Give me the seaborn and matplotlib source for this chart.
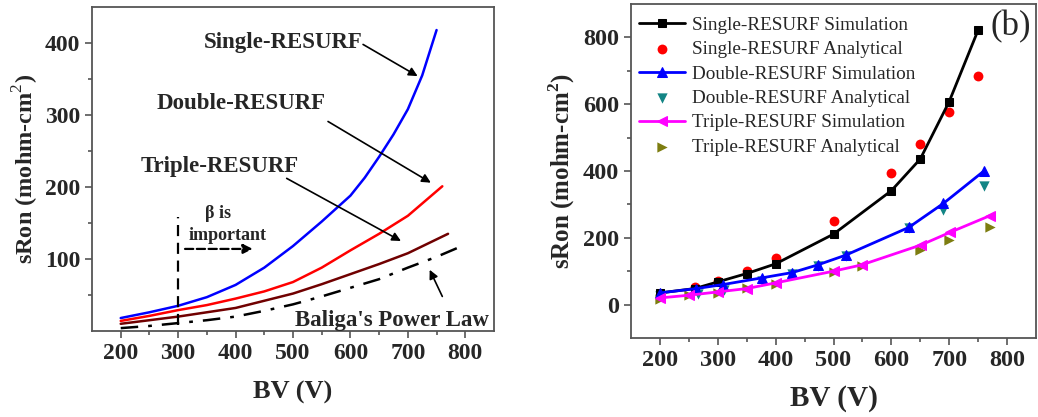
import matplotlib
matplotlib.use("Agg")
import matplotlib.pyplot as plt
import seaborn as sns
import numpy as np
from matplotlib.ticker import FixedLocator

# ---------------- data (panel a) ----------------
bv_single_a = [200, 250, 300, 350, 400, 450, 500, 550, 600, 625, 650, 675, 700, 725, 750]
ron_single_a = [18, 26, 35, 47, 64, 88, 118, 152, 188, 213, 242, 273, 308, 355, 418]
bv_double_a = [200, 250, 300, 350, 400, 450, 500, 550, 600, 650, 700, 760]
ron_double_a = [14, 21, 29, 36, 45, 55, 68, 88, 112, 135, 160, 201]
bv_triple_a = [200, 250, 300, 350, 400, 450, 500, 550, 600, 650, 700, 770]
ron_triple_a = [10, 15, 20, 26, 32, 42, 52, 65, 79, 93, 108, 135]
bv_baliga = [200, 250, 300, 350, 400, 450, 500, 550, 600, 650, 700, 750, 800]
ron_baliga = [4, 7, 11, 15, 20, 28, 37, 48, 60, 72, 88, 103, 120]

# ---------------- data (panel b) ----------------
bv_ss = [200, 260, 300, 350, 400, 500, 600, 650, 700, 750]
ron_ss = [35, 48, 68, 93, 122, 211, 341, 436, 608, 822]
bv_sa = [260, 300, 350, 400, 500, 600, 650, 700, 750]
ron_sa = [54, 70, 102, 141, 249, 393, 481, 577, 684]
bv_ds = [200, 263, 309, 376, 429, 473, 521, 630, 690, 760]
ron_ds = [35, 48, 60, 80, 96, 119, 148, 231, 303, 400]
bv_da = [200, 265, 310, 376, 429, 473, 521, 630, 690, 760]
ron_da = [25, 33, 45, 72, 92, 117, 146, 229, 284, 355]
bv_ts = [200, 250, 300, 350, 400, 500, 549, 652, 701, 770]
ron_ts = [20, 28, 38, 48, 65, 100, 119, 179, 216, 266]
bv_ta = [200, 250, 300, 350, 400, 500, 550, 650, 700, 770]
ron_ta = [16, 28, 36, 50, 63, 97, 117, 164, 192, 231]

legend_labels = ["Single-RESURF Simulation", "Single-RESURF Analytical",
                 "Double-RESURF Simulation", "Double-RESURF Analytical",
                 "Triple-RESURF Simulation", "Triple-RESURF Analytical"]

sns.set_theme(style="ticks")
plt.rcParams['font.family'] = ['Liberation Serif', 'DejaVu Serif']
plt.rcParams['mathtext.fontset'] = 'custom'
plt.rcParams['mathtext.rm'] = 'Liberation Serif'
plt.rcParams['mathtext.bf'] = 'Liberation Serif:bold'

W, H = 1038, 417
fig = plt.figure(figsize=(W / 100, H / 100), dpi=100)
fig.patch.set_facecolor('white')

ax1 = fig.add_axes([92 / W, 1 - 331 / H, (494 - 92) / W, (331 - 7) / H])
ax2 = fig.add_axes([631 / W, 1 - 338 / H, (1036 - 631) / W, (338 - 4) / H])

spine_col = '#555555'
for ax in (ax1, ax2):
    for s in ax.spines.values():
        s.set_color(spine_col)
        s.set_linewidth(1.3)
    ax.tick_params(which='major', direction='out', length=5, width=1.2, color=spine_col)
    ax.tick_params(which='minor', direction='out', length=3, width=1.2, color=spine_col)
    ax.set_facecolor('white')

# ---------------- panel a ----------------
sns.lineplot(x=bv_single_a, y=ron_single_a, ax=ax1, color='#0000ff', lw=1.8)
sns.lineplot(x=bv_double_a, y=ron_double_a, ax=ax1, color='#ff0000', lw=1.8)
sns.lineplot(x=bv_triple_a, y=ron_triple_a, ax=ax1, color='#700000', lw=1.8)
sns.lineplot(x=bv_baliga, y=ron_baliga, ax=ax1, color='black', lw=1.8)
ax1.lines[-1].set_dashes([7, 4, 1.5, 4])

ax1.set_xlim(150, 850)
ax1.set_ylim(0, 450)
ax1.xaxis.set_major_locator(FixedLocator([200, 300, 400, 500, 600, 700, 800]))
ax1.xaxis.set_minor_locator(FixedLocator([250, 350, 450, 550, 650, 750]))
ax1.yaxis.set_major_locator(FixedLocator([100, 200, 300, 400]))
ax1.yaxis.set_minor_locator(FixedLocator([50, 150, 250, 350]))
for lab in ax1.get_xticklabels() + ax1.get_yticklabels():
    lab.set_fontweight('bold')
    lab.set_fontsize(17)
ax1.set_xlabel('BV (V)', fontsize=19, fontweight='bold', labelpad=12)
ax1.set_ylabel(r'sRon (mohm-cm$^{2}$)', fontsize=17.5, fontweight='bold', labelpad=3)

tk = dict(fontsize=16.5, fontweight='bold', ha='center', va='center')
ax1.text(483, 400, 'Single-RESURF', **tk)
ax1.text(409, 316, 'Double-RESURF', **tk)
ax1.text(373, 229, 'Triple-RESURF', **tk)
ax1.text(673, 14, "Baliga's Power Law", **tk)
ax1.text(370, 163, 'β is', fontsize=13, fontweight='bold', ha='center', va='center')
ax1.text(386, 133, 'important', fontsize=13, fontweight='bold', ha='center', va='center')

ap = dict(arrowstyle='-|>', color='black', lw=1.2, mutation_scale=13, shrinkA=0, shrinkB=0)
ax1.annotate('', xy=(717, 354), xytext=(622, 398), arrowprops=ap)
ax1.annotate('', xy=(740, 206), xytext=(561, 291), arrowprops=ap)
ax1.annotate('', xy=(688, 125), xytext=(489, 212), arrowprops=ap)
ax1.annotate('', xy=(738, 85), xytext=(760, 48), arrowprops=ap)
ax1.annotate('', xy=(430, 114), xytext=(312, 114),
             arrowprops=dict(arrowstyle='-|>', color='black', lw=1.6, ls='--',
                             mutation_scale=14, shrinkA=0, shrinkB=0))
ax1.plot([300, 300], [8, 158], color='black', lw=1.6, ls=(0, (5, 3)))

# ---------------- panel b ----------------
sns.lineplot(x=bv_ss, y=ron_ss, ax=ax2, color='black', lw=2, marker='s', markersize=6,
             markeredgecolor='black', label=legend_labels[0])
sns.scatterplot(x=bv_sa, y=ron_sa, ax=ax2, color='#ff0000', marker='o', s=50,
                edgecolor='#ff0000', linewidth=0, label=legend_labels[1])
sns.lineplot(x=bv_ds, y=ron_ds, ax=ax2, color='#0000ff', lw=2, marker='^', markersize=7,
             markeredgecolor='#0000ff', label=legend_labels[2])
sns.scatterplot(x=bv_da, y=ron_da, ax=ax2, color='#138585', marker='v', s=55,
                edgecolor='#138585', linewidth=0, label=legend_labels[3])
sns.lineplot(x=bv_ts, y=ron_ts, ax=ax2, color='#ff00ff', lw=2, marker='<', markersize=7,
             markeredgecolor='#ff00ff', label=legend_labels[4])
sns.scatterplot(x=bv_ta, y=ron_ta, ax=ax2, color='#7d7d10', marker='>', s=55,
                edgecolor='#7d7d10', linewidth=0, label=legend_labels[5])

ax2.set_xlim(150, 850)
ax2.set_ylim(-100, 900)
ax2.xaxis.set_major_locator(FixedLocator([200, 300, 400, 500, 600, 700, 800]))
ax2.xaxis.set_minor_locator(FixedLocator([250, 350, 450, 550, 650, 750]))
ax2.yaxis.set_major_locator(FixedLocator([0, 200, 400, 600, 800]))
ax2.yaxis.set_minor_locator(FixedLocator([100, 300, 500, 700]))
for lab in ax2.get_xticklabels() + ax2.get_yticklabels():
    lab.set_fontweight('bold')
    lab.set_fontsize(17.5)
ax2.set_xlabel('BV (V)', fontsize=21, fontweight='bold', labelpad=10)
ax2.set_ylabel(r'sRon (mohm-cm$^{\mathbf{2}}$)', fontsize=18, fontweight='bold', labelpad=4)

ax2.legend(loc='upper left', bbox_to_anchor=(0.0, 0.985), frameon=False,
           fontsize=13.8, handlelength=2.4, handletextpad=0.4, labelspacing=0.36,
           borderaxespad=0.2, borderpad=0.2)
ax2.text(0.938, 0.931, '(b)', transform=ax2.transAxes, fontsize=25,
         ha='center', va='center')

fig.savefig('out.png', dpi=100, facecolor='white')
